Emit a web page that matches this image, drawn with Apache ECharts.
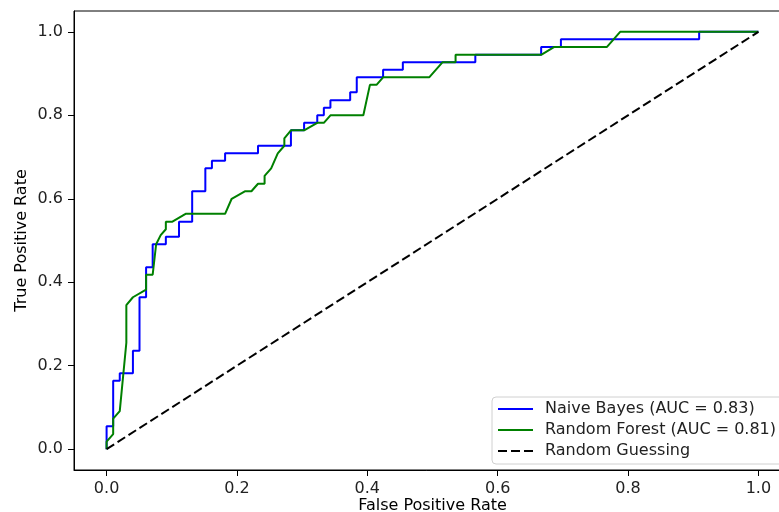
<!DOCTYPE html>
<html>
<head>
<meta charset="utf-8">
<script src="https://cdn.jsdelivr.net/npm/echarts@6/dist/echarts.min.js"></script>
<style>
  html, body { margin: 0; padding: 0; background: #fff; }
  #chart { width: 779px; height: 512px; }
</style>
</head>
<body>
<div id="chart"></div>
<script>
// ROC curve points
const nbFpr = [0, 0, 0.0101, 0.0101, 0.0202, 0.0202, 0.0404, 0.0404, 0.0505, 0.0505, 0.0606, 0.0606,
  0.0707, 0.0707, 0.0909, 0.0909, 0.1111, 0.1111, 0.1313, 0.1313, 0.1515, 0.1515, 0.1616, 0.1616,
  0.1818, 0.1818, 0.2323, 0.2323, 0.2828, 0.2828, 0.3030, 0.3030, 0.3232, 0.3232, 0.3333, 0.3333,
  0.3434, 0.3434, 0.3737, 0.3737, 0.3838, 0.3838, 0.4242, 0.4242, 0.4545, 0.4545, 0.5657, 0.5657,
  0.6667, 0.6667, 0.6970, 0.6970, 0.9091, 0.9091, 1.0]
const nbTpr = [0, 0.055, 0.055, 0.164, 0.164, 0.182, 0.182, 0.236, 0.236, 0.364, 0.364, 0.436,
  0.436, 0.491, 0.491, 0.509, 0.509, 0.545, 0.545, 0.618, 0.618, 0.673, 0.673, 0.691,
  0.691, 0.709, 0.709, 0.727, 0.727, 0.764, 0.764, 0.782, 0.782, 0.800, 0.800, 0.818,
  0.818, 0.836, 0.836, 0.855, 0.855, 0.891, 0.891, 0.909, 0.909, 0.927, 0.927, 0.945,
  0.945, 0.964, 0.964, 0.982, 0.982, 1.0, 1.0]

const rfFpr = [0, 0, 0.0101, 0.0101, 0.0202, 0.0303, 0.0303, 0.0404, 0.0606, 0.0606, 0.0707, 0.076,
  0.083, 0.0909, 0.0909, 0.1010, 0.1212, 0.1818, 0.1919, 0.2121, 0.2222, 0.2323, 0.2424, 0.2424,
  0.2525, 0.2626, 0.2727, 0.2727, 0.2828, 0.3030, 0.3232, 0.3333, 0.3434, 0.3939, 0.4040, 0.4141,
  0.4242, 0.4949, 0.5152, 0.5354, 0.5354, 0.6667, 0.6869, 0.7677, 0.7879, 1.0]
const rfTpr = [0, 0.018, 0.036, 0.073, 0.091, 0.255, 0.345, 0.364, 0.382, 0.418, 0.418, 0.491,
  0.513, 0.527, 0.545, 0.545, 0.564, 0.564, 0.600, 0.618, 0.618, 0.636, 0.636, 0.655,
  0.673, 0.709, 0.727, 0.745, 0.764, 0.764, 0.782, 0.782, 0.800, 0.800, 0.873, 0.873,
  0.891, 0.891, 0.927, 0.927, 0.945, 0.945, 0.964, 0.964, 1.0, 1.0]

const guessFpr = [0, 1]
const guessTpr = [0, 1]

const tickValues = [0, 0.2, 0.4, 0.6, 0.8, 1.0]

const pairs = (xs, ys) => xs.map((x, i) => [x, ys[i]])

const font = 'DejaVu Sans'

const axisCommon = {
  type: 'value',
  min: -0.05,
  max: 1.05,
  nameLocation: 'middle',
  nameMoveOverlap: false,
  nameTextStyle: { fontFamily: font, fontSize: 16, color: '#000' },
  axisLine: { show: true, onZero: false, lineStyle: { color: '#000', width: 1 } },
  axisTick: { show: true, length: 6, customValues: tickValues, lineStyle: { color: '#000', width: 1 } },
  axisLabel: {
    customValues: tickValues,
    margin: 11,
    fontFamily: font,
    fontSize: 16,
    color: '#222',
    formatter: v => v.toFixed(1)
  },
  splitLine: { show: false }
}

const initChart = () => {
  const myChart = echarts.init(document.getElementById('chart'))
  myChart.setOption({
    animation: false,
    backgroundColor: '#fff',
    grid: {
      left: 74, top: 11, right: -12, bottom: 42,
      outerBoundsMode: 'none',
      containLabel: false,
      show: true, borderColor: '#000', borderWidth: 1
    },
    xAxis: Object.assign({}, axisCommon, { name: 'False Positive Rate', nameGap: 28 }),
    yAxis: Object.assign({}, axisCommon, { name: 'True Positive Rate', nameGap: 44 }),
    legend: {
      orient: 'vertical',
      left: 492,
      top: 397,
      padding: [4, 10, 5, 5],
      itemWidth: 35,
      itemHeight: 16,
      itemGap: 5,
      itemStyle: { opacity: 0 },
      backgroundColor: 'rgba(255,255,255,0.8)',
      borderColor: '#d0d0d0',
      borderWidth: 1,
      borderRadius: 4,
      textStyle: { fontFamily: font, fontSize: 16, color: '#222', lineHeight: 16, padding: [0, 0, 0, 7] },
      data: ['Naive Bayes (AUC = 0.83)', 'Random Forest (AUC = 0.81)', 'Random Guessing']
    },
    series: [
      {
        name: 'Naive Bayes (AUC = 0.83)',
        type: 'line',
        symbol: 'none',
        data: pairs(nbFpr, nbTpr),
        lineStyle: { color: '#0000ff', width: 2 },
        itemStyle: { color: '#0000ff' },
        z: 3
      },
      {
        name: 'Random Forest (AUC = 0.81)',
        type: 'line',
        symbol: 'none',
        data: pairs(rfFpr, rfTpr),
        lineStyle: { color: '#008000', width: 2 },
        itemStyle: { color: '#008000' },
        z: 4
      },
      {
        name: 'Random Guessing',
        type: 'line',
        symbol: 'none',
        data: pairs(guessFpr, guessTpr),
        lineStyle: { color: '#000', width: 2, type: [9, 4] },
        itemStyle: { color: '#000' },
        z: 5
      }
    ]
  })
}

window.addEventListener('load', () => {
  initChart()
})
</script>
</body>
</html>
